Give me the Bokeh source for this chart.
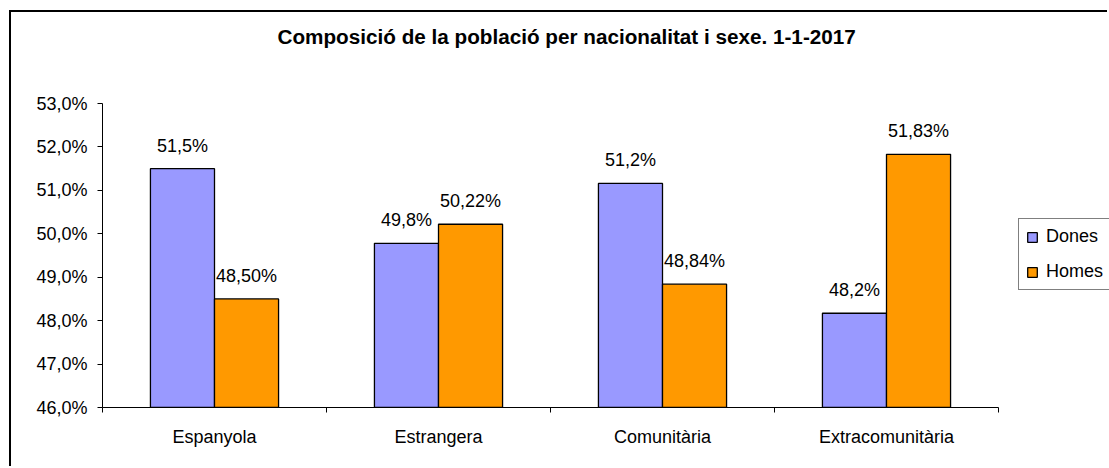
import numpy as np
from bokeh.plotting import figure
from bokeh.models import ColumnDataSource, FixedTicker, Legend, LegendItem, Title, Range1d
from bokeh.embed import file_html
from bokeh.resources import INLINE
from bokeh.core.properties import value
from bokeh.transform import dodge

# ---- data ----
categories = ["Espanyola", "Estrangera", "Comunitària", "Extracomunitària"]
series_names = ["Dones", "Homes"]
dones = [51.50, 49.78, 51.16, 48.17]
homes = [48.50, 50.22, 48.84, 51.83]
dones_labels = ["51,5%", "49,8%", "51,2%", "48,2%"]
homes_labels = ["48,50%", "50,22%", "48,84%", "51,83%"]
y_ticks = [46, 47, 48, 49, 50, 51, 52, 53]
y_tick_labels = ["46,0%", "47,0%", "48,0%", "49,0%", "50,0%", "51,0%", "52,0%", "53,0%"]
title_text = "Composició de la població per nacionalitat i sexe. 1-1-2017"

# ---- styles ----
FONT = "Liberation Sans"
FS = "18px"
C_DONES = "#9999FF"
C_HOMES = "#FF9900"
BAR_W = 0.286
AXIS_PX = 896      # pixel length of the category axis
EXTRA_PX = 111     # room to the right of the axis (legend area)

n = len(categories)
xc = (np.arange(n) + 0.5).tolist()
src = ColumnDataSource(dict(x=xc, dones=dones, homes=homes,
                            dl=dones_labels, hl=homes_labels))

x_end = n * (AXIS_PX + EXTRA_PX) / AXIS_PX
p = figure(width=1098, height=456,
           x_range=Range1d(0, x_end), y_range=Range1d(y_ticks[0], y_ticks[-1]),
           output_backend="svg", toolbar_location=None,
           min_border_left=91, min_border_right=0,
           min_border_top=91, min_border_bottom=61)
p.styles = {"border-left": "2px solid black", "border-top": "2px solid black",
            "margin-left": "9px", "margin-top": "10px"}
p.outline_line_color = None
p.xgrid.visible = False
p.ygrid.visible = False
p.background_fill_color = "white"
p.border_fill_color = "white"

r1 = p.vbar(x=dodge("x", -BAR_W / 2), top="dones", bottom=y_ticks[0], width=BAR_W,
            source=src, fill_color=C_DONES, line_color="black", line_width=1.3)
r2 = p.vbar(x=dodge("x", BAR_W / 2), top="homes", bottom=y_ticks[0], width=BAR_W,
            source=src, fill_color=C_HOMES, line_color="black", line_width=1.3)

p.text(x=dodge("x", -BAR_W / 2), y="dones", text="dl", source=src,
       text_align="center", text_baseline="alphabetic", y_offset=-23,
       text_font=value(FONT), text_font_size=FS, text_color="black")
p.text(x=dodge("x", BAR_W / 2), y="homes", text="hl", source=src,
       text_align="center", text_baseline="alphabetic", y_offset=-23,
       text_font=value(FONT), text_font_size=FS, text_color="black")

# y axis
ya = p.yaxis[0]
ya.ticker = FixedTicker(ticks=y_ticks)
ya.major_label_overrides = dict(zip(y_ticks, y_tick_labels))
ya.major_tick_out = 5
ya.major_tick_in = 0
ya.minor_tick_line_color = None
ya.axis_line_color = "black"
ya.major_tick_line_color = "black"
ya.major_label_standoff = 10
ya.major_label_text_font = FONT
ya.major_label_text_font_size = FS
ya.major_label_text_color = "black"

# x axis
xa = p.xaxis[0]
xa.bounds = (0, n)
xa.ticker = FixedTicker(ticks=xc, minor_ticks=list(range(n + 1)))
xa.major_label_overrides = dict(zip(xc, categories))
xa.major_tick_out = 0
xa.major_tick_in = 0
xa.minor_tick_out = 5
xa.minor_tick_in = 0
xa.minor_tick_line_color = "black"
xa.axis_line_color = "black"
xa.major_label_standoff = 14
xa.major_label_text_font = FONT
xa.major_label_text_font_size = FS
xa.major_label_text_color = "black"

# title: spacer first (closest to frame), then the real title above it
p.title.visible = False
p.add_layout(Title(text=" ", text_font_size="35px", text_font=FONT), "above")
p.add_layout(Title(text=title_text, align="left", offset=175,
                   text_font=FONT, text_font_size="20.7px", text_font_style="bold",
                   text_color="black"), "above")

legend = Legend(items=[LegendItem(label=series_names[0], renderers=[r1]),
                       LegendItem(label=series_names[1], renderers=[r2])],
                location=(AXIS_PX + 20, 117), orientation="vertical",
                border_line_color="black", border_line_width=1,
                background_fill_color="white", background_fill_alpha=1,
                padding=7, spacing=14, margin=0,
                glyph_width=12, glyph_height=12, label_standoff=8,
                label_height=20,
                label_text_font=FONT, label_text_font_size=FS,
                label_text_color="black")
p.add_layout(legend, "center")

open("out.html", "w").write(file_html(p, INLINE))
